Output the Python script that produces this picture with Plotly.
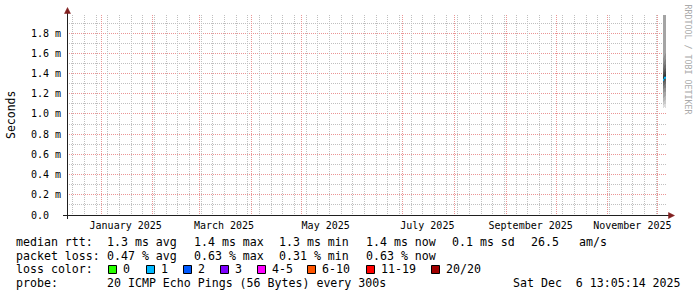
import plotly.graph_objects as go

# ---------------- data ----------------
t_start = "2024-12-11 13:05:14"
t_end = "2025-12-06 13:05:14"

month_label_dates = ["2025-01-15 18:00", "2025-03-15 18:00", "2025-05-15 18:00",
                     "2025-07-15 18:00", "2025-09-15 18:00", "2025-11-15 18:00"]
month_labels = ["January 2025", "March 2025", "May 2025",
                "July 2025", "September 2025", "November 2025"]

y_tick_vals = [0.0, 0.2, 0.4, 0.6, 0.8, 1.0, 1.2, 1.4, 1.6, 1.8]
y_tick_text = ["0.0\u00a0\u00a0", "0.2 m", "0.4 m", "0.6 m", "0.8 m", "1.0 m",
               "1.2 m", "1.4 m", "1.6 m", "1.8 m"]
y_minor_vals = [0.1, 0.3, 0.5, 0.7, 0.9, 1.1, 1.3, 1.5, 1.7, 1.9]

# consolidation interval boundaries (each interval = one data column)
sample_edges = ["2025-12-04 03:29:14", "2025-12-04 17:53:14",
                "2025-12-05 08:17:14", "2025-12-05 22:41:14"]
# 20 sorted ping rtts (ms) per interval
pings = [
    [1.06, 1.09, 1.12, 1.16, 1.21, 1.25, 1.28, 1.31, 1.33, 1.35, 1.37, 1.39, 1.42, 1.46, 1.50, 1.56, 2.10, 2.30, 2.60, 3.00],
    [1.07, 1.10, 1.13, 1.17, 1.22, 1.26, 1.29, 1.32, 1.34, 1.36, 1.38, 1.41, 1.44, 1.48, 1.52, 1.58, 2.05, 2.40, 2.70, 3.10],
    [1.06, 1.10, 1.14, 1.18, 1.22, 1.26, 1.30, 1.33, 1.35, 1.37, 1.39, 1.42, 1.45, 1.49, 1.54, 1.60, 2.20, 2.50, 2.80, 3.20],
]
median_rtt = [1.34, 1.36, 1.36]
lost_pings = [1, 1, 1]

loss_levels = ["0", "1", "2", "3", "4-5", "6-10", "11-19", "20/20"]
loss_colors = ["#26ff00", "#00b8ff", "#0059ff", "#7e00ff", "#ff00ff", "#ff5500", "#ff0000", "#a10000"]
loss_upper = [0, 1, 2, 3, 5, 10, 19, 20]

rtt_stats = {"avg": 1.3, "max": 1.4, "min": 1.3, "now": 1.4, "sd": 0.1, "am/s": 26.5}
loss_stats = {"avg": 0.47, "max": 0.63, "min": 0.31, "now": 0.63}
probe_text = "20 ICMP Echo Pings (56 Bytes) every 300s"
stamp_text = "Sat Dec\u00a0\u00a06 13:05:14 2025"

# ---------------- layout helpers ----------------
W, H = 697, 297
PL, PT, PW, PH = 67, 15, 600, 200
MONO = "DejaVu Sans Mono"


def px(x):
    return (x - PL) / PW


def py(y):
    return (PT + PH - y) / PH


def loss_color(n):
    for up, c in zip(loss_upper, loss_colors):
        if n <= up:
            return c
    return loss_colors[-1]


fig = go.Figure()

# smoke bands (step areas between ping i and ping n-1-i)
n = len(pings[0])
half = n // 2
for i in range(half):
    lvl = int(190 / half * (half - 1 - i)) + 50
    col = "rgb(%d,%d,%d)" % (lvl, lvl, lvl)
    lo = [p[i] for p in pings]
    hi = [p[n - 1 - i] for p in pings]
    fig.add_trace(go.Scatter(x=sample_edges, y=lo + [lo[-1]], mode="lines",
                             line=dict(width=0, shape="hv"), hoverinfo="skip"))
    fig.add_trace(go.Scatter(x=sample_edges, y=hi + [hi[-1]], mode="lines",
                             line=dict(width=0, shape="hv"), fill="tonexty",
                             fillcolor=col, hoverinfo="skip"))

# median line coloured by loss
for k, m in enumerate(median_rtt):
    fig.add_trace(go.Scatter(x=[sample_edges[k], sample_edges[k + 1]], y=[m, m], mode="lines",
                             line=dict(width=2, color=loss_color(lost_pings[k])),
                             hoverinfo="skip"))

# empty traces to anchor the grid overlay axes
fig.add_trace(go.Scatter(x=[], y=[], xaxis="x2", yaxis="y", hoverinfo="skip"))
fig.add_trace(go.Scatter(x=[], y=[], xaxis="x3", yaxis="y", hoverinfo="skip"))

GRID = "#c0c0c0"
MGRID = "#eb9595"
DASH = "1px,1px"

fig.update_layout(
    width=W, height=H, autosize=False,
    margin=dict(l=PL, r=W - PL - PW, t=PT, b=H - PT - PH, pad=0),
    paper_bgcolor="white", plot_bgcolor="white",
    showlegend=False,
    xaxis=dict(type="date", range=[t_start, t_end], tickmode="array",
               tickvals=month_label_dates, ticktext=month_labels,
               showgrid=False, zeroline=False, showline=False, ticks="",
               tickfont=dict(family=MONO, size=10, color="black"),
               ticklabelstandoff=3),
    xaxis3=dict(type="date", overlaying="x", anchor="y", range=[t_start, t_end],
                tickmode="linear", tick0="2024-12-15", dtick=7 * 86400000,
                showgrid=True, gridcolor=GRID, griddash=DASH, gridwidth=1,
                showticklabels=False, ticks="", zeroline=False, showline=False),
    xaxis2=dict(type="date", overlaying="x", anchor="y", range=[t_start, t_end],
                tickmode="linear", tick0="2025-01-01", dtick="M1",
                showgrid=True, gridcolor=MGRID, griddash=DASH, gridwidth=1,
                showticklabels=False, ticks="", zeroline=False, showline=False),
    yaxis=dict(range=[0, 1.98], tickmode="array", tickvals=y_tick_vals, ticktext=y_tick_text,
               showgrid=True, gridcolor=MGRID, griddash=DASH, gridwidth=1,
               minor=dict(tickmode="array", tickvals=y_minor_vals, showgrid=True,
                          gridcolor=GRID, griddash=DASH, gridwidth=1, ticks=""),
               zeroline=False, showline=False, ticks="",
               tickfont=dict(family=MONO, size=10, color="black"),
               ticklabelstandoff=5),
)

AXIS = "#1f1f1f"
ARROW = "#801f1f"
shapes = [
    dict(type="line", xref="paper", yref="paper", x0=px(67.5), x1=px(67.5), y0=py(219), y1=py(12),
         line=dict(color=AXIS, width=1), layer="above"),
    dict(type="line", xref="paper", yref="paper", x0=px(63), x1=px(670), y0=py(215.5), y1=py(215.5),
         line=dict(color=AXIS, width=1), layer="above"),
    dict(type="path", xref="paper", yref="paper",
         path="M %f,%f L %f,%f L %f,%f Z" % (px(64.5), py(13.5), px(70.5), py(13.5), px(67.5), py(7.5)),
         fillcolor=ARROW, line=dict(color=ARROW, width=0.5), layer="above"),
    dict(type="path", xref="paper", yref="paper",
         path="M %f,%f L %f,%f L %f,%f Z" % (px(668.5), py(212.5), px(668.5), py(218.5), px(674.5), py(215.5)),
         fillcolor=ARROW, line=dict(color=ARROW, width=0.5), layer="above"),
]

annotations = []


def txt(x, y, s, size=11.6, color="black", angle=0, xanchor="left"):
    annotations.append(dict(x=px(x), y=py(y), xref="paper", yref="paper", text=s,
                            showarrow=False, xanchor=xanchor, yanchor="middle",
                            textangle=angle, borderpad=0, borderwidth=0,
                            font=dict(family=MONO, size=size, color=color)))


# axis title and watermark
txt(11, 115, "Seconds", size=11.5, angle=-90, xanchor="center")
txt(687.5, 59, "RRDTOOL / TOBI OETIKER", size=8.3, color="#aaaaaa", angle=90, xanchor="center")

# legend rows
row_y = [241.5, 255.5, 269.3, 283.3]
col_x = [107, 194, 279, 366, 452, 531, 579]
txt(16, row_y[0], "median rtt:")
rtt_items = ["%.1f ms avg" % rtt_stats["avg"], "%.1f ms max" % rtt_stats["max"],
             "%.1f ms min" % rtt_stats["min"], "%.1f ms now" % rtt_stats["now"],
             "%.1f ms sd" % rtt_stats["sd"], "%.1f" % rtt_stats["am/s"], "am/s"]
for x, s in zip(col_x, rtt_items):
    txt(x, row_y[0], s)

txt(16, row_y[1], "packet loss:")
loss_items = ["%.2f %% avg" % loss_stats["avg"], "%.2f %% max" % loss_stats["max"],
              "%.2f %% min" % loss_stats["min"], "%.2f %% now" % loss_stats["now"]]
for x, s in zip(col_x, loss_items):
    txt(x, row_y[1], s)

txt(16, row_y[2], "loss color:")
box_x = [108, 146, 183, 220, 257, 307, 366, 431]
for bx, lab, c in zip(box_x, loss_levels, loss_colors):
    shapes.append(dict(type="rect", xref="paper", yref="paper",
                       x0=px(bx + 0.5), x1=px(bx + 8.5), y0=py(265.5), y1=py(273.5),
                       fillcolor=c, line=dict(color="black", width=1), layer="above"))
    txt(bx + 15, row_y[2], lab)

txt(16, row_y[3], "probe:")
txt(107, row_y[3], probe_text)
txt(513, row_y[3], stamp_text)

fig.update_layout(shapes=shapes, annotations=annotations)
fig.write_html("out.html")
